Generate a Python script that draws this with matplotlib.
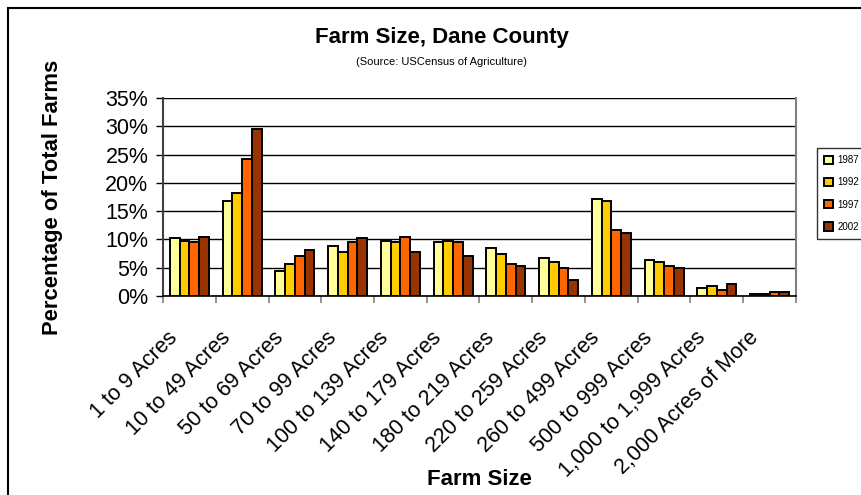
import numpy as np
import matplotlib
matplotlib.use("Agg")
import matplotlib.pyplot as plt
from matplotlib.patches import Rectangle
from matplotlib.ticker import FuncFormatter
from matplotlib.transforms import ScaledTranslation

plt.rcParams['font.family'] = ['Liberation Sans', 'DejaVu Sans']

# farm size classes and share of total farms (%) by census year
categories = ["1 to 9 Acres", "10 to 49 Acres", "50 to 69 Acres", "70 to 99 Acres",
              "100 to 139 Acres", "140 to 179 Acres", "180 to 219 Acres",
              "220 to 259 Acres", "260 to 499 Acres", "500 to 999 Acres",
              "1,000 to 1,999 Acres", "2,000 Acres of More"]
years = ["1987", "1992", "1997", "2002"]
pct_1987 = [10.2, 16.8, 4.5, 8.8, 9.8, 9.5, 8.4, 6.7, 17.2, 6.4, 1.4, 0.35]
pct_1992 = [9.8, 18.2, 5.7, 7.7, 9.5, 9.8, 7.4, 6.0, 16.8, 6.0, 1.8, 0.35]
pct_1997 = [9.5, 24.2, 7.0, 9.5, 10.5, 9.5, 5.7, 4.9, 11.6, 5.3, 1.05, 0.7]
pct_2002 = [10.5, 29.5, 8.1, 10.2, 7.7, 7.0, 5.3, 2.8, 11.2, 4.9, 2.15, 0.7]
colors = ["#FFFF99", "#FFCC00", "#FF6600", "#993300"]

fig = plt.figure(figsize=(8.62, 4.95), dpi=100)
ax = fig.add_axes([163 / 862, 1 - 296 / 495, 633 / 862, 198 / 495])

x = np.arange(len(categories))
w = 0.185
series = [pct_1987, pct_1992, pct_1997, pct_2002]
for i, (vals, c, yr) in enumerate(zip(series, colors, years)):
    ax.bar(x + (i - 1.5) * w, vals, width=w, color=c, edgecolor="black",
           linewidth=1.4, label=yr, zorder=3)

ax.set_xlim(-0.5, len(categories) - 0.5)
ax.set_ylim(0, 35)
ax.set_yticks(np.arange(0, 36, 5))
ax.yaxis.set_major_formatter(FuncFormatter(lambda v, p: f"{v:.0f}%"))
ax.yaxis.grid(True, color="black", linewidth=1.0, zorder=0)

# category labels centred on groups, ticks on group boundaries
ax.set_xticks(x)
ax.set_xticklabels(categories, rotation=45, ha="right", va="top",
                   rotation_mode="anchor", fontsize=15.5)
ax.tick_params(axis="x", length=0, pad=14)
shift = ScaledTranslation(-0.22, -0.12, fig.dpi_scale_trans)
for lab in ax.get_xticklabels():
    lab.set_transform(lab.get_transform() + shift)
ax.set_xticks(np.arange(-0.5, len(categories), 1), minor=True)
ax.tick_params(axis="x", which="minor", length=5, width=1.2, color="#808080")
ax.tick_params(axis="y", labelsize=15.5, length=5, width=1, color="black", pad=5.5)

ax.spines["top"].set_visible(False)
ax.spines["left"].set_color("#404040")
ax.spines["left"].set_linewidth(1.5)
ax.spines["right"].set_color("#808080")
ax.spines["right"].set_linewidth(1.5)
ax.spines["bottom"].set_color("black")
ax.spines["bottom"].set_linewidth(1.2)

ax.set_ylabel("Percentage of Total Farms", fontsize=15.8, fontweight="bold")
ax.yaxis.set_label_coords(-0.158, 0.5)
ax.set_xlabel("Farm Size", fontsize=16, fontweight="bold")
ax.xaxis.set_label_coords(0.5, -0.875)

fig.text(442 / 862, 1 - 38 / 495, "Farm Size, Dane County", ha="center", va="center",
         fontsize=16, fontweight="bold")
fig.text(442 / 862, 1 - 62 / 495, "(Source: USCensus of Agriculture)", ha="center",
         va="center", fontsize=8)

leg = fig.legend(loc="upper left", bbox_to_anchor=(817 / 862, 1 - 148 / 495),
                 fontsize=7, frameon=True, fancybox=False, edgecolor="black",
                 handlelength=0.93, handleheight=0.93, labelspacing=1.25,
                 handletextpad=0.4, borderpad=0.75, borderaxespad=0)
leg.get_frame().set_linewidth(1.0)

# chart border
fig.patches.append(Rectangle((8 / 862, -0.1), 1.1, 1 - 8 / 495 + 0.1,
                             transform=fig.transFigure, fill=False,
                             edgecolor="black", linewidth=1.5))

fig.savefig("out.png", dpi=100)
